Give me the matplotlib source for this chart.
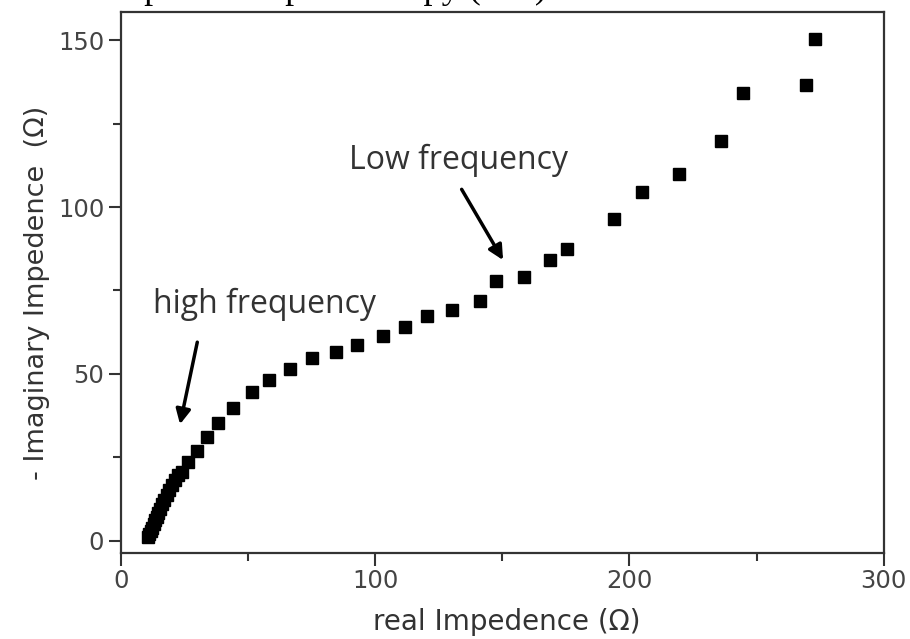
import matplotlib
matplotlib.use("Agg")
import matplotlib.pyplot as plt
from matplotlib.ticker import MultipleLocator

# Nyquist plot data (ohm)
real_z = [10.8, 11.2, 11.7, 12.2, 12.8, 13.4, 14.0, 14.7, 15.4, 16.2, 17.0,
          17.9, 18.9, 20.0, 21.2, 22.5, 23.9, 26.5, 29.8, 33.7, 38.3, 44.2,
          51.4, 58.3, 66.5, 75.0, 84.5, 92.9, 103.1, 111.8, 120.2, 130.3,
          141.2, 147.7, 158.6, 168.7, 175.3, 193.9, 204.8, 219.4, 236.1,
          244.7, 269.6, 273.1]
imag_z = [1.2, 2.0, 2.9, 3.9, 5.0, 6.1, 7.2, 8.4, 9.6, 10.9, 12.2,
          13.6, 15.1, 16.6, 18.2, 19.6, 20.7, 23.7, 27.0, 31.0, 35.2, 39.7,
          44.7, 48.2, 51.4, 54.7, 56.7, 58.7, 61.2, 63.9, 67.2, 69.0,
          71.9, 77.8, 79.1, 84.1, 87.4, 96.5, 104.4, 109.8, 119.8,
          134.3, 136.7, 150.3]

x_ticks = [0, 100, 200, 300]
y_ticks = [0, 50, 100, 150]

fig = plt.figure(figsize=(9.1, 6.39), dpi=100)
ax = fig.add_axes([0.133, 0.135, 0.838, 0.846])

ax.plot(real_z, imag_z, linestyle="none", marker="s", markersize=9,
        color="black")

ax.set_xlim(0, 300)
ax.set_ylim(-3.6, 158.4)
ax.set_xticks(x_ticks)
ax.set_yticks(y_ticks)
ax.xaxis.set_minor_locator(MultipleLocator(50))
ax.yaxis.set_minor_locator(MultipleLocator(25))

for s in ax.spines.values():
    s.set_linewidth(1.6)
    s.set_color("#333333")
ax.tick_params(which="major", length=9, width=1.5, color="#333333",
               labelsize=17.5, labelcolor="#444444", pad=3)
ax.tick_params(which="minor", length=6, width=1.5, color="#333333")

ax.set_xlabel("real Impedence (Ω)", fontsize=20, color="#333333")
ax.set_ylabel("- Imaginary Impedence  (Ω)", fontsize=19.5, color="#333333")
ax.xaxis.set_label_coords(0.506, -0.103)
ax.yaxis.set_label_coords(-0.093, 0.48)

arrow = dict(arrowstyle="-|>", lw=2.5, color="black", mutation_scale=22,
             shrinkA=0, shrinkB=0)
ax.annotate("", xy=(23.2, 34.9), xytext=(30.0, 59.5), arrowprops=arrow)
ax.annotate("", xy=(150.3, 84.1), xytext=(134.0, 105.3), arrowprops=arrow)
ax.text(56.4, 68.1, "high frequency", ha="center", va="baseline",
        fontsize=23, color="#333333", family="Open Sans")
ax.text(132.9, 111.3, "Low frequency", ha="center", va="baseline",
        fontsize=23, color="#333333", family="Open Sans")

# caption from the page above, cut off at the top edge
fig.text(104 / 910, 1 + 1.5 / 639, "Impedance spectroscopy (EIS)",
         ha="left", va="baseline", fontsize=26, family="Liberation Serif",
         color="black")

fig.savefig("out.png", dpi=100)
